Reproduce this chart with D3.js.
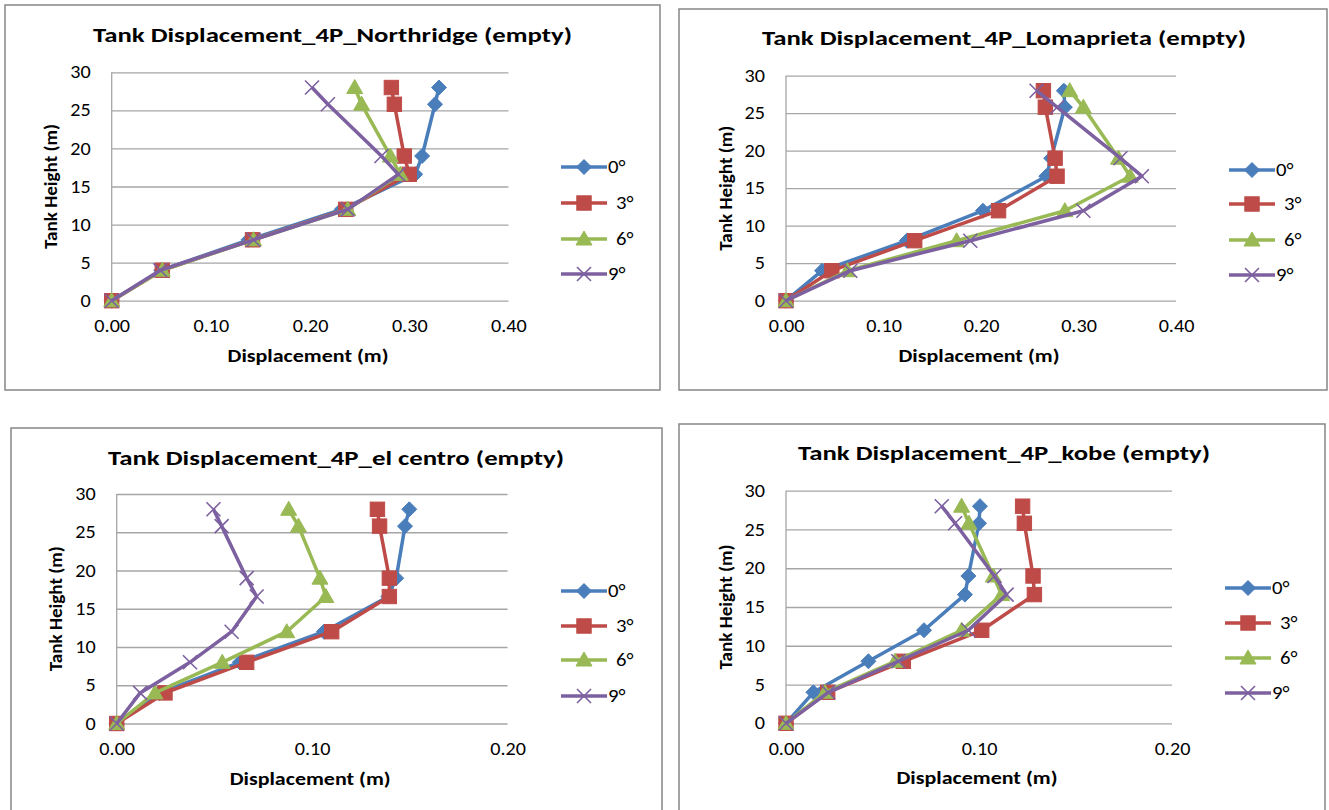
<!DOCTYPE html>
<html>
<head>
<meta charset="utf-8">
<script src="https://cdn.jsdelivr.net/npm/d3@7"></script>
<style>
  html, body { margin: 0; padding: 0; background: #ffffff; }
  svg { display: block; }
  text { font-family: Carlito, Calibri, Lato, "Open Sans", sans-serif; fill: #000; }
</style>
</head>
<body>
<svg id="chart" width="1329" height="810"></svg>
<script>
// ---------------- DATA ----------------
const seriesNames = ["0°", "3°", "6°", "9°"];
const heights = [0, 4, 8, 12, 16.6, 19, 25.8, 28];
const yTicks = [0, 5, 10, 15, 20, 25, 30];
const xTicksWide = [0, 0.1, 0.2, 0.3, 0.4];
const xTicksNarrow = [0, 0.1, 0.2];

const chartTitles = [
  "Tank Displacement_4P_Northridge (empty)",
  "Tank Displacement_4P_Lomaprieta (empty)",
  "Tank Displacement_4P_el centro (empty)",
  "Tank Displacement_4P_kobe (empty)"
];
const xAxisTitle = "Displacement (m)";
const yAxisTitle = "Tank Height (m)";

// Northridge
const northridge0 = [0, 0.050, 0.138, 0.232, 0.306, 0.313, 0.326, 0.330];
const northridge3 = [0, 0.051, 0.142, 0.236, 0.300, 0.295, 0.285, 0.282];
const northridge6 = [0, 0.051, 0.143, 0.238, 0.291, 0.281, 0.252, 0.245];
const northridge9 = [0, 0.049, 0.143, 0.238, 0.289, 0.272, 0.218, 0.202];
// Lomaprieta
const lomaprieta0 = [0, 0.037, 0.124, 0.202, 0.267, 0.272, 0.286, 0.285];
const lomaprieta3 = [0, 0.047, 0.132, 0.218, 0.278, 0.276, 0.266, 0.264];
const lomaprieta6 = [0, 0.063, 0.175, 0.286, 0.353, 0.341, 0.305, 0.291];
const lomaprieta9 = [0, 0.066, 0.189, 0.305, 0.365, 0.343, 0.278, 0.257];
// El Centro
const elcentro0 = [0, 0.022, 0.063, 0.106, 0.139, 0.143, 0.1475, 0.1497];
const elcentro3 = [0, 0.0247, 0.0665, 0.110, 0.1395, 0.1395, 0.1345, 0.1334];
const elcentro6 = [0, 0.0196, 0.054, 0.087, 0.107, 0.104, 0.093, 0.088];
const elcentro9 = [0, 0.012, 0.0375, 0.0588, 0.0716, 0.0665, 0.0537, 0.0495];
// Kobe
const kobe0 = [0, 0.0142, 0.0427, 0.0715, 0.0927, 0.0945, 0.100, 0.1005];
const kobe3 = [0, 0.0216, 0.0608, 0.1014, 0.1287, 0.128, 0.1235, 0.1226];
const kobe6 = [0, 0.0202, 0.0565, 0.091, 0.1117, 0.1074, 0.0948, 0.091];
const kobe9 = [0, 0.0219, 0.0582, 0.0945, 0.1143, 0.108, 0.0876, 0.0807];

const chartData = [
  [northridge0, northridge3, northridge6, northridge9],
  [lomaprieta0, lomaprieta3, lomaprieta6, lomaprieta9],
  [elcentro0, elcentro3, elcentro6, elcentro9],
  [kobe0, kobe3, kobe6, kobe9]
];
const chartXMax = [0.4, 0.4, 0.2, 0.2];
const chartXTicks = [xTicksWide, xTicksWide, xTicksNarrow, xTicksNarrow];

// ---------------- STYLE / LAYOUT ----------------
const colors = ["#4A7EBB", "#BE4B48", "#98B954", "#7D60A0"];
const markerTypes = ["diamond", "square", "triangle", "cross"];
const FONT = "Carlito, Calibri, Lato, sans-serif";
const HSTRETCH = 1.15; // horizontal stretch of the reference raster text

const layouts = [
  { frame: [5, 5, 655, 385],    plot: [111.7, 72.3, 508.4, 300.7], titleX: 332.5, titleY: 35,  titleW: 479, legendX: 561, legendY: [167, 203, 239, 274] },
  { frame: [679, 9, 648, 381],  plot: [786, 75.7, 1176, 300.7],    titleX: 1004,  titleY: 38,  titleW: 484, legendX: 1229, legendY: [170, 204, 240, 275] },
  { frame: [11, 428, 651, 400], plot: [116.7, 494, 507.6, 723.5],  titleX: 336,   titleY: 458, titleW: 456, legendX: 561, legendY: [591, 626, 660, 696] },
  { frame: [679, 424, 646, 400],plot: [786, 490.7, 1172, 723.3],   titleX: 1004,  titleY: 453, titleW: 412, legendX: 1225, legendY: [588, 623, 658, 693] }
];

const svg = d3.select("#chart");

function stretch(sel, f) {
  sel.each(function () {
    const w = this.getComputedTextLength();
    d3.select(this).attr("textLength", w * f).attr("lengthAdjust", "spacingAndGlyphs");
  });
}

function drawMarker(g, type, x, y, color) {
  if (type === "diamond") {
    const s = 7.5;
    g.append("path").attr("d", `M${x},${y - s}L${x + s},${y}L${x},${y + s}L${x - s},${y}Z`)
      .attr("fill", color).attr("stroke", color).attr("stroke-width", 1);
  } else if (type === "square") {
    const s = 7.2;
    g.append("rect").attr("x", x - s).attr("y", y - s).attr("width", 2 * s).attr("height", 2 * s)
      .attr("fill", color).attr("stroke", color).attr("stroke-width", 1);
  } else if (type === "triangle") {
    const s = 8;
    g.append("path").attr("d", `M${x},${y - s}L${x + s},${y + s * 0.75}L${x - s},${y + s * 0.75}Z`)
      .attr("fill", color).attr("stroke", color).attr("stroke-width", 1);
  } else {
    const s = 7;
    g.append("path").attr("d", `M${x - s},${y - s}L${x + s},${y + s}M${x + s},${y - s}L${x - s},${y + s}`)
      .attr("fill", "none").attr("stroke", color).attr("stroke-width", 1.6);
  }
}

layouts.forEach((L, ci) => {
  const g = svg.append("g");
  const [fx, fy, fw, fh] = L.frame;
  g.append("rect").attr("x", fx).attr("y", fy).attr("width", fw).attr("height", fh)
    .attr("fill", "#fff").attr("stroke", "#868686").attr("stroke-width", 1.5);

  const [px0, py0, px1, py1] = L.plot;
  const x = d3.scaleLinear().domain([0, chartXMax[ci]]).range([px0, px1]);
  const y = d3.scaleLinear().domain([0, 30]).range([py1, py0]);

  // horizontal gridlines + y tick labels
  const yAxis = d3.axisLeft(y).tickValues(yTicks).tickSize(-(px1 - px0)).tickPadding(21).tickFormat(d3.format("d"));
  const ya = g.append("g").attr("transform", `translate(${px0},0)`).call(yAxis);
  ya.select(".domain").remove();
  ya.selectAll(".tick line").attr("stroke", "#a6a6a6").attr("stroke-width", 1.3);
  ya.selectAll(".tick text").attr("font-size", 17.5).attr("fill", "#000").style("font-family", FONT)
    .call(stretch, HSTRETCH);
  // vertical axis line
  g.append("line").attr("x1", px0).attr("x2", px0).attr("y1", py0).attr("y2", py1)
    .attr("stroke", "#a6a6a6").attr("stroke-width", 1.3);

  const xAxis = d3.axisBottom(x).tickValues(chartXTicks[ci]).tickSize(0).tickPadding(19).tickFormat(d3.format(".2f"));
  const xa = g.append("g").attr("transform", `translate(0,${py1})`).call(xAxis);
  xa.select(".domain").remove();
  xa.selectAll(".tick text").attr("font-size", 17.5).attr("fill", "#000").style("font-family", FONT)
    .call(stretch, HSTRETCH);

  // series
  const line = d3.line().x(d => x(d[0])).y(d => y(d[1]));
  chartData[ci].forEach((vals, si) => {
    const pts = vals.map((v, i) => [v, heights[i]]);
    const sg = g.append("g");
    sg.append("path").attr("d", line(pts)).attr("fill", "none")
      .attr("stroke", colors[si]).attr("stroke-width", 3.5).attr("stroke-linejoin", "round");
    pts.forEach(p => drawMarker(sg, markerTypes[si], x(p[0]), y(p[1]), colors[si]));
  });

  // titles
  g.append("text").attr("x", L.titleX).attr("y", L.titleY)
    .attr("text-anchor", "middle").attr("dominant-baseline", "central")
    .attr("font-size", 20).attr("font-weight", "bold")
    .attr("textLength", L.titleW).attr("lengthAdjust", "spacingAndGlyphs")
    .text(chartTitles[ci]);
  g.append("text").attr("x", (px0 + px1) / 2 - 2).attr("y", py1 + 55)
    .attr("text-anchor", "middle").attr("dominant-baseline", "central")
    .attr("font-size", 18).attr("font-weight", "bold")
    .attr("textLength", 161).attr("lengthAdjust", "spacingAndGlyphs")
    .text(xAxisTitle);
  g.append("text").attr("transform", `translate(${px0 - 61},${(py0 + py1) / 2}) rotate(-90)`)
    .attr("text-anchor", "middle").attr("dominant-baseline", "central")
    .attr("font-size", 19).attr("font-weight", "bold")
    .attr("textLength", 125).attr("lengthAdjust", "spacingAndGlyphs")
    .text(yAxisTitle);

  // legend
  seriesNames.forEach((name, si) => {
    const ly = L.legendY[si];
    const lg = g.append("g");
    lg.append("line").attr("x1", L.legendX).attr("x2", L.legendX + 46).attr("y1", ly).attr("y2", ly)
      .attr("stroke", colors[si]).attr("stroke-width", 3.5);
    drawMarker(lg, markerTypes[si], L.legendX + 23, ly, colors[si]);
    lg.append("text").attr("x", L.legendX + 47 + (si === 1 || si === 2 ? 8 : 0)).attr("y", ly)
      .attr("dominant-baseline", "central").attr("font-size", 18).text(name)
      .call(stretch, HSTRETCH);
  });
});
</script>
</body>
</html>
